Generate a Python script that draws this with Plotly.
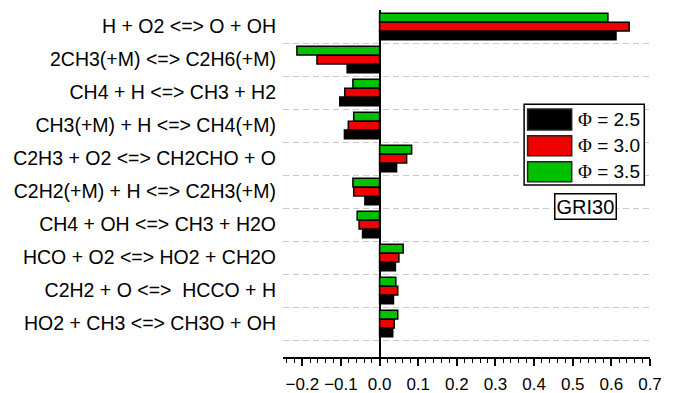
import plotly.graph_objects as go

categories = [
    "H + O2 <=> O + OH",
    "2CH3(+M) <=> C2H6(+M)",
    "CH4 + H <=> CH3 + H2",
    "CH3(+M) + H <=> CH4(+M)",
    "C2H3 + O2 <=> CH2CHO + O",
    "C2H2(+M) + H <=> C2H3(+M)",
    "CH4 + OH <=> CH3 + H2O",
    "HCO + O2 <=> HO2 + CH2O",
    "C2H2 + O <=>\u00a0 HCCO + H",
    "HO2 + CH3 <=> CH3O + OH",
]
phi_labels = ["2.5", "3.0", "3.5"]
phi25 = [0.612, -0.084, -0.103, -0.091, 0.044, -0.038, -0.044, 0.041, 0.036, 0.034]
phi30 = [0.646, -0.162, -0.090, -0.081, 0.070, -0.067, -0.053, 0.050, 0.047, 0.038]
phi35 = [0.591, -0.214, -0.069, -0.067, 0.083, -0.069, -0.058, 0.061, 0.042, 0.047]
x_ticks = [-0.2, -0.1, 0.0, 0.1, 0.2, 0.3, 0.4, 0.5, 0.6, 0.7]

colors = ["#000000", "#f00000", "#00c000"]
series = [phi25, phi30, phi35]
ypos = list(range(len(categories)))

W = 0.265
offsets = [0.14, -0.13, -0.40]  # black bottom, red middle, green top (reversed axis)

fig = go.Figure()
for vals, col, lab, off in zip(series, colors, phi_labels, offsets):
    fig.add_trace(go.Bar(
        x=vals, y=ypos, orientation="h", name="\u03a6 = " + lab,
        marker=dict(color=col, line=dict(color="#000000", width=1.5)),
        width=W, offset=off, showlegend=False,
    ))

fig.update_layout(
    width=676, height=393,
    margin=dict(l=283, r=26, t=10, b=36),
    paper_bgcolor="white", plot_bgcolor="white",
    barmode="overlay",
    font=dict(family="Arial, Liberation Sans, sans-serif", color="black"),
    xaxis=dict(
        range=[-0.25, 0.7], tickvals=x_ticks, tickformat=".1f", automargin=False,
        showgrid=False, zeroline=True, zerolinecolor="black", zerolinewidth=2,
        showline=True, linecolor="black", linewidth=2,
        ticks="outside", ticklen=7, tickwidth=1.5, tickcolor="black",
        minor=dict(dtick=0.02, tick0=0, ticks="outside", ticklen=4, tickwidth=1.2, tickcolor="black"),
        tickfont=dict(size=17), ticklabelstandoff=4,
    ),
    yaxis=dict(
        range=[10.015, -0.5], tickvals=ypos, ticktext=categories, automargin=False,
        showgrid=False, zeroline=False, showline=False, ticks="",
        tickfont=dict(size=19.5), ticklabelstandoff=6,
        minor=dict(tick0=0.5, dtick=1, showgrid=True, gridcolor="#c8c8c8",
                   gridwidth=1.3, griddash="6px,4px", ticks=""),
    ),
)

# custom legend box (data coords)
def px2x(p):
    return (p - 380.7) / 385.7

def py2y(p):
    return (p - 10) / 33 - 0.5

fig.add_shape(type="rect", xref="x", yref="y",
              x0=px2x(525), x1=px2x(645), y0=py2y(104.3), y1=py2y(185),
              fillcolor="white", line=dict(color="black", width=1.5), layer="above")
rows = [(109, 130), (135.7, 155.7), (161.7, 181.7)]
for (r0, r1), col, lab in zip(rows, colors, phi_labels):
    fig.add_shape(type="rect", xref="x", yref="y",
                  x0=px2x(528.5), x1=px2x(572.5), y0=py2y(r0), y1=py2y(r1),
                  fillcolor=col, line=dict(color="#222222", width=1.5), layer="above")
    fig.add_annotation(x=px2x(577), y=py2y((r0 + r1) / 2), xref="x", yref="y",
                       text="<span style=\"font-family:'Liberation Serif'\">\u03a6</span> = " + lab,
                       showarrow=False, xanchor="left", yanchor="middle",
                       font=dict(size=19, color="black"))

fig.add_annotation(x=px2x(586), y=py2y(206.5), xref="x", yref="y",
                   text="GRI30", showarrow=False, xanchor="center", yanchor="middle",
                   font=dict(size=20, color="black"), bgcolor="white",
                   bordercolor="black", borderwidth=1.5, borderpad=1)

fig.write_html("out.html")
